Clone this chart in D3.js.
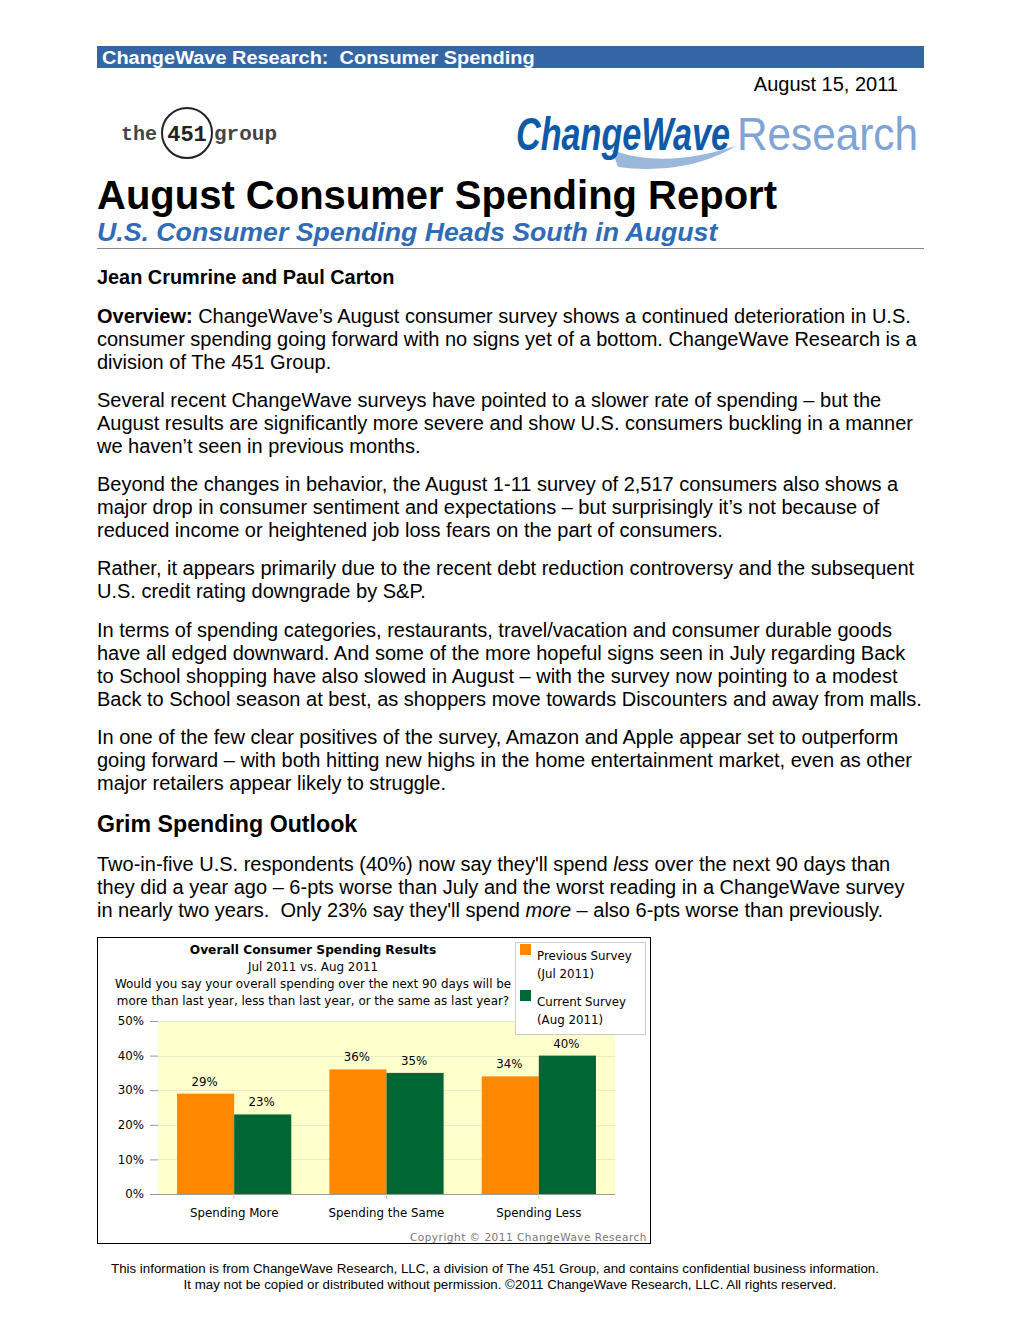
<!DOCTYPE html>
<html><head><meta charset="utf-8">
<script src="https://cdn.jsdelivr.net/npm/d3@7"></script>
<style>
html,body{margin:0;padding:0;background:#fff;}
svg{display:block;}
text{white-space:pre;}
</style></head>
<body>
<svg id="page" width="1020" height="1320"></svg>
<script>
// ---- data ----
const categories = ["Spending More", "Spending the Same", "Spending Less"];
const previousSurvey = [29, 36, 34];   // Jul 2011
const currentSurvey = [23, 35, 40];    // Aug 2011
const seriesNames = ["Previous Survey", "Current Survey"];
const seriesSub = ["(Jul 2011)", "(Aug 2011)"];
const yTicks = [0, 10, 20, 30, 40, 50];
const chartTitle = ["Overall Consumer Spending Results", "Jul 2011 vs. Aug 2011",
  "Would you say your overall spending over the next 90 days will be",
  "more than last year, less than last year, or the same as last year?"];

const svg = d3.select("#page");
svg.append("rect").attr("width",1020).attr("height",1320).attr("fill","#fff");

const body = "'Liberation Sans', Arial, sans-serif";

// fit a text to a given width by horizontal scaling (keeps the real bbox accurate)
function fitText(g, x, y, w) {
  const t = g.select("text");
  const nat = t.node().getComputedTextLength();
  g.attr("transform", `translate(${x},${y}) scale(${w/nat},1)`);
}

// header bar
svg.append("rect").attr("x",97).attr("y",46).attr("width",827).attr("height",22).attr("fill","#3465a4");
const hb = svg.append("g");
hb.append("text").attr("font-family",body).attr("font-weight","bold")
  .attr("font-size",19).attr("fill","#fff").text("ChangeWave Research:  Consumer Spending");
fitText(hb, 102, 64, 433);
svg.append("text").attr("x",898).attr("y",91).attr("text-anchor","end").attr("font-family",body)
  .attr("font-size",20).attr("fill","#000").text("August 15, 2011");

// 451 group logo
const lg = svg.append("g");
lg.append("text").attr("x",121).attr("y",140).attr("font-family","'Liberation Mono', monospace")
  .attr("font-weight","bold").attr("font-size",20).attr("fill","#444").text("the");
lg.append("ellipse").attr("cx",187).attr("cy",133).attr("rx",25).attr("ry",25)
  .attr("fill","none").attr("stroke","#222").attr("stroke-width",2);
lg.append("text").attr("x",187).attr("y",141).attr("text-anchor","middle").attr("font-family","'Liberation Mono', monospace")
  .attr("font-weight","bold").attr("font-size",22).attr("fill","#222").text("451");
const grpTxt = lg.append("g");
grpTxt.append("text").attr("font-family","'Liberation Mono', monospace")
  .attr("font-weight","bold").attr("font-size",20).attr("fill","#444").text("group");
fitText(grpTxt, 214, 140, 63);

// ChangeWave Research logo
const cw = svg.append("g");
cw.append("path").attr("d","M612,150 C650,164 692,160 736,146 C700,168 655,172 618,167 Z").attr("fill","#9bb7dc");
const cwA = cw.append("g");
cwA.append("text").attr("font-family",body).attr("font-weight","bold")
  .attr("font-style","italic").attr("font-size",46).attr("fill","#0f5aa8").text("ChangeWave");
fitText(cwA, 516, 150, 214);
const cwB = cw.append("g");
cwB.append("text").attr("font-family",body)
  .attr("font-size",46).attr("fill","#7ea4d6").text("Research");
fitText(cwB, 737, 150, 181);

// Titles
svg.append("text").attr("x",97).attr("y",209).attr("font-family",body).attr("font-weight","bold")
  .attr("font-size",40).attr("fill","#000").text("August Consumer Spending Report");
svg.append("text").attr("x",97).attr("y",241).attr("font-family",body).attr("font-weight","bold")
  .attr("font-style","italic").attr("font-size",26.7).attr("fill","#2f6cb5").text("U.S. Consumer Spending Heads South in August");
svg.append("line").attr("x1",97).attr("x2",924).attr("y1",248.5).attr("y2",248.5).attr("stroke","#888").attr("stroke-width",1);

svg.append("text").attr("x",97).attr("y",284).attr("font-family",body).attr("font-weight","bold")
  .attr("font-size",19.9).attr("fill","#000").text("Jean Crumrine and Paul Carton");

// body paragraphs
const lines = [
 [323, [["Overview:","b"],[" ChangeWave’s August consumer survey shows a continued deterioration in U.S.",""]]],
 [346, [["consumer spending going forward with no signs yet of a bottom. ChangeWave Research is a",""]]],
 [369, [["division of The 451 Group.",""]]],
 [407, [["Several recent ChangeWave surveys have pointed to a slower rate of spending – but the",""]]],
 [430, [["August results are significantly more severe and show U.S. consumers buckling in a manner",""]]],
 [453, [["we haven’t seen in previous months.",""]]],
 [491, [["Beyond the changes in behavior, the August 1-11 survey of 2,517 consumers also shows a",""]]],
 [514, [["major drop in consumer sentiment and expectations – but surprisingly it’s not because of",""]]],
 [537, [["reduced income or heightened job loss fears on the part of consumers.",""]]],
 [575, [["Rather, it appears primarily due to the recent debt reduction controversy and the subsequent",""]]],
 [598, [["U.S. credit rating downgrade by S&P.",""]]],
 [637, [["In terms of spending categories, restaurants, travel/vacation and consumer durable goods",""]]],
 [660, [["have all edged downward. And some of the more hopeful signs seen in July regarding Back",""]]],
 [683, [["to School shopping have also slowed in August – with the survey now pointing to a modest",""]]],
 [706, [["Back to School season at best, as shoppers move towards Discounters and away from malls.",""]]],
 [744, [["In one of the few clear positives of the survey, Amazon and Apple appear set to outperform",""]]],
 [767, [["going forward – with both hitting new highs in the home entertainment market, even as other",""]]],
 [790, [["major retailers appear likely to struggle.",""]]],
 [871, [["Two-in-five U.S. respondents (40%) now say they'll spend ",""],["less","i"],[" over the next 90 days than",""]]],
 [894, [["they did a year ago – 6-pts worse than July and the worst reading in a ChangeWave survey",""]]],
 [917, [["in nearly two years.  Only 23% say they'll spend ",""],["more","i"],[" – also 6-pts worse than previously.",""]]]
];
lines.forEach(([y, parts]) => {
  const t = svg.append("text").attr("x",97).attr("y",y).attr("font-family",body).attr("font-size",20).attr("fill","#000");
  parts.forEach(([s, st]) => {
    const ts = t.append("tspan").text(s);
    if (st==="b") ts.attr("font-weight","bold");
    if (st==="i") ts.attr("font-style","italic");
  });
});
svg.append("text").attr("x",97).attr("y",832).attr("font-family",body).attr("font-weight","bold")
  .attr("font-size",23.2).attr("fill","#000").text("Grim Spending Outlook");

// ---- Chart ----
const cf = "'DejaVu Sans', Verdana, sans-serif";
const ch = svg.append("g");
ch.append("rect").attr("x",97.5).attr("y",937.5).attr("width",553).attr("height",306)
  .attr("fill","#fff").attr("stroke","#000").attr("stroke-width",1);

const plot = {left:158, right:615, top:1021, bottom:1194};
const x0 = d3.scaleBand().domain(categories).range([plot.left, plot.right]).paddingInner(0.25).paddingOuter(0.125);
const x1 = d3.scaleBand().domain(seriesNames).range([0, x0.bandwidth()]);
const y = d3.scaleLinear().domain([0,50]).range([plot.bottom, plot.top]);
const colors = d3.scaleOrdinal().domain(seriesNames).range(["#ff8800","#006633"]);

ch.append("rect").attr("x",plot.left).attr("y",plot.top).attr("width",plot.right-plot.left)
  .attr("height",plot.bottom-plot.top).attr("fill","#ffffcc");

// gridlines
ch.append("g").selectAll("line").data(yTicks.filter(d=>d>0)).join("line")
  .attr("x1",plot.left).attr("x2",plot.right).attr("y1",d=>Math.round(y(d))+0.5).attr("y2",d=>Math.round(y(d))+0.5)
  .attr("stroke","#ebebc4").attr("stroke-width",1);

// y axis
const yAxis = ch.append("g").attr("transform",`translate(${plot.left},0)`)
  .call(d3.axisLeft(y).tickValues(yTicks).tickFormat(d=>d+"%").tickSize(8).tickPadding(6));
yAxis.select(".domain").remove();
yAxis.selectAll(".tick line").attr("stroke","#999");
yAxis.selectAll("text").attr("font-family",cf).attr("font-size",11.8).attr("fill","#000");

// bars
const data = categories.map((c,i)=>({cat:c, vals:[{s:seriesNames[0],v:previousSurvey[i]},{s:seriesNames[1],v:currentSurvey[i]}]}));
const grp = ch.append("g").selectAll("g").data(data).join("g").attr("transform",d=>`translate(${x0(d.cat)},0)`);
grp.selectAll("rect").data(d=>d.vals).join("rect")
  .attr("x",d=>x1(d.s)).attr("width",x1.bandwidth()).attr("y",d=>y(d.v)).attr("height",d=>plot.bottom-y(d.v))
  .attr("fill",d=>colors(d.s));
grp.selectAll("text").data(d=>d.vals).join("text")
  .attr("x",d=>x1(d.s)+x1.bandwidth()/2 - 1).attr("y",d=>y(d.v)-8).attr("text-anchor","middle")
  .attr("font-family",cf).attr("font-size",11.8).attr("fill","#000").text(d=>d.v+"%");

// x axis
const xAxis = ch.append("g").attr("transform",`translate(0,${plot.bottom})`)
  .call(d3.axisBottom(x0).tickSize(5).tickPadding(10));
xAxis.select(".domain").attr("d",`M150,0.5H${plot.right}`).attr("stroke","#999");
xAxis.selectAll(".tick line").attr("stroke","#ccc");
xAxis.selectAll("text").attr("font-family",cf).attr("font-size",11.8).attr("fill","#000");

// chart titles
chartTitle.forEach((t,i)=>{
  ch.append("text").attr("x",313).attr("y",[954,971,988,1005][i]).attr("text-anchor","middle")
    .attr("font-family",cf).attr("font-size",i===0?12.2:11.9).attr("font-weight",i===0?"bold":"normal")
    .attr("fill","#000").text(t);
});

// legend
const leg = ch.append("g");
leg.append("rect").attr("x",515.5).attr("y",942.5).attr("width",130).attr("height",92)
  .attr("fill","#fff").attr("stroke","#ccc");
seriesNames.forEach((s,i)=>{
  const yy = 944 + i*46;
  leg.append("rect").attr("x",520).attr("y",yy).attr("width",11).attr("height",11).attr("fill",colors(s));
  leg.append("text").attr("x",537).attr("y",yy+16).attr("font-family",cf).attr("font-size",11.8).attr("fill","#000").text(s);
  leg.append("text").attr("x",537).attr("y",yy+34).attr("font-family",cf).attr("font-size",11.8).attr("fill","#000").text(seriesSub[i]);
});

ch.append("text").attr("x",647).attr("y",1241).attr("text-anchor","end").attr("font-family",cf)
  .attr("font-size",10.5).attr("letter-spacing",0.5).attr("fill","#777").text("Copyright © 2011 ChangeWave Research");

// footer
svg.append("text").attr("x",495).attr("y",1273).attr("text-anchor","middle").attr("font-family",body)
  .attr("font-size",13.3).attr("fill","#000")
  .text("This information is from ChangeWave Research, LLC, a division of The 451 Group, and contains confidential business information.");
svg.append("text").attr("x",510).attr("y",1289).attr("text-anchor","middle").attr("font-family",body)
  .attr("font-size",13.3).attr("fill","#000")
  .text("It may not be copied or distributed without permission. ©2011 ChangeWave Research, LLC. All rights reserved.");
</script>
</body></html>
